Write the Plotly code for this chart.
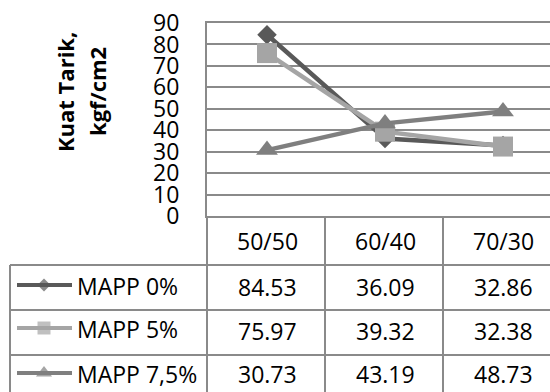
import plotly.graph_objects as go

# ---- data ----
categories = ["50/50", "60/40", "70/30"]
series_names = ["MAPP 0%", "MAPP 5%", "MAPP 7,5%"]
mapp_0 = [84.53, 36.09, 32.86]
mapp_5 = [75.97, 39.32, 32.38]
mapp_75 = [30.73, 43.19, 48.73]
y_ticks = [0, 10, 20, 30, 40, 50, 60, 70, 80, 90]
y_title_lines = ["Kuat Tarik,", "kgf/cm2"]

series_values = [mapp_0, mapp_5, mapp_75]
colors = ["#595959", "#A5A5A5", "#7F7F7F"]
symbols = ["diamond", "square", "triangle-up"]
marker_sizes = [15, 20, 19]
key_sizes = [10, 13, 14]

W, H = 550, 392
FONT = "Open Sans"
GRID = "#8A8A8A"

# pixel layout
plot_left, plot_top, plot_bottom = 207, 23, 216
col_w = 118
first_center = 267
row_lines = [265, 310, 355]
text_rows = [287, 330.5, 374]
key_rows = [285, 328, 373]
table_left = 10

fig = go.Figure()

for name, vals, c, s, ms in zip(series_names, series_values, colors, symbols, marker_sizes):
    fig.add_trace(go.Scatter(
        x=categories, y=vals, name=name, mode="lines+markers",
        line=dict(color=c, width=4.5),
        marker=dict(symbol=s, size=ms, color=c, line=dict(width=0)),
        xaxis="x", yaxis="y", showlegend=False, hoverinfo="skip",
    ))

# legend keys in the data table (pixel overlay axes)
for yc, c, s, ks in zip(key_rows, colors, symbols, key_sizes):
    fig.add_trace(go.Scatter(
        x=[17, 44, 72], y=[yc, yc, yc], mode="lines+markers",
        line=dict(color=c, width=4),
        marker=dict(symbol=s, size=[0, ks, 0], color=c, line=dict(width=0)),
        xaxis="x2", yaxis="y2", showlegend=False, hoverinfo="skip",
    ))

shapes = []
def hline(x0, x1, y):
    shapes.append(dict(type="line", xref="x2", yref="y2", x0=x0, x1=x1, y0=y, y1=y,
                       line=dict(color=GRID, width=2)))
def vline(x, y0, y1):
    shapes.append(dict(type="line", xref="x2", yref="y2", x0=x, x1=x, y0=y0, y1=y1,
                       line=dict(color=GRID, width=2)))

for k in range(len(categories)):
    vline(plot_left + k * col_w, plot_bottom, H + 5)
for y in row_lines:
    hline(table_left, W + 5, y)
vline(table_left, row_lines[0], H + 5)

annotations = []
tfont = dict(family=FONT, size=23, color="#000000")
hdr_y = (plot_bottom + row_lines[0]) / 2
for k, cat in enumerate(categories):
    annotations.append(dict(xref="x2", yref="y2", x=first_center + k * col_w, y=hdr_y,
                            text=cat, showarrow=False, font=tfont,
                            xanchor="center", yanchor="middle"))
for yc, ky, name, vals in zip(text_rows, key_rows, series_names, series_values):
    annotations.append(dict(xref="x2", yref="y2", x=75, y=ky + 1, text=name, showarrow=False,
                            font=tfont, xanchor="left", yanchor="middle"))
    for k, v in enumerate(vals):
        annotations.append(dict(xref="x2", yref="y2", x=first_center + k * col_w, y=yc,
                                text=f"{v:.2f}", showarrow=False, font=tfont,
                                xanchor="center", yanchor="middle"))

for x, line in zip([65, 97], y_title_lines):
    annotations.append(dict(xref="x2", yref="y2", x=x, y=92, text=f"<b>{line}</b>",
                            textangle=-90, showarrow=False,
                            font=dict(family=FONT, size=22, color="#000000"),
                            xanchor="center", yanchor="middle"))

x_lo = -(first_center - plot_left) / col_w
x_hi = (W - first_center) / col_w

fig.update_layout(
    template="none",
    width=W, height=H, autosize=False,
    margin=dict(l=0, r=0, t=0, b=0, pad=0),
    paper_bgcolor="white", plot_bgcolor="rgba(0,0,0,0)",
    xaxis=dict(domain=[plot_left / W, 1], type="category", categoryarray=categories,
               range=[x_lo, x_hi], showticklabels=False, showgrid=False, zeroline=False,
               showline=True, mirror=True, linecolor=GRID, linewidth=2, ticks="",
               automargin=False),
    yaxis=dict(domain=[(H - plot_bottom) / H, (H - plot_top) / H], range=[0, 90],
               tickvals=y_ticks, ticktext=[str(t) for t in y_ticks],
               showgrid=True, gridcolor=GRID, gridwidth=2, zeroline=False,
               showline=True, linecolor=GRID, linewidth=2, ticks="",
               ticklabelstandoff=21, automargin=False,
               tickfont=dict(family=FONT, size=23, color="#000000")),
    xaxis2=dict(domain=[0, 1], range=[0, W], visible=False, anchor="y2", automargin=False),
    yaxis2=dict(domain=[0, 1], range=[H, 0], visible=False, anchor="x2", automargin=False),
    shapes=shapes, annotations=annotations, showlegend=False,
)

fig.write_html("out.html", post_script="document.body.style.margin='0px';",
               config={"displayModeBar": False})
